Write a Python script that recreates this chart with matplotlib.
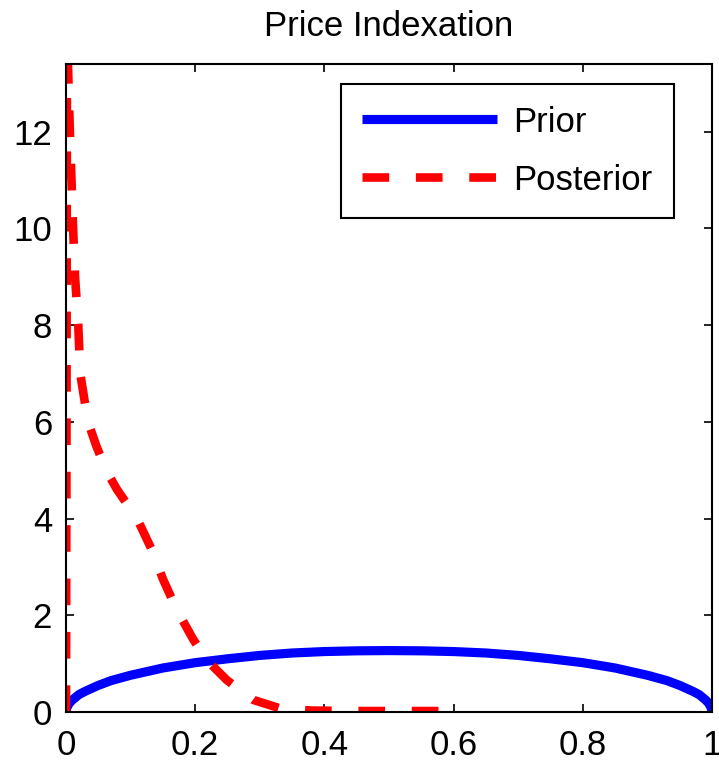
import numpy as np
import matplotlib
matplotlib.use("Agg")
import matplotlib.pyplot as plt

# values
prior_x = [0.0, 0.001, 0.005, 0.01, 0.02, 0.03, 0.05, 0.07, 0.1, 0.15, 0.2,
           0.25, 0.3, 0.35, 0.4, 0.45, 0.5, 0.55, 0.6, 0.65, 0.7, 0.75, 0.8,
           0.85, 0.9, 0.93, 0.95, 0.97, 0.98, 0.99, 0.995, 0.999, 1.0]
prior_y = [0.0, 0.08, 0.18, 0.25, 0.36, 0.43, 0.55, 0.65, 0.76, 0.91, 1.02,
           1.10, 1.17, 1.22, 1.25, 1.265, 1.27, 1.265, 1.25, 1.22, 1.17, 1.10, 1.02,
           0.91, 0.76, 0.65, 0.55, 0.43, 0.36, 0.25, 0.18, 0.08, 0.0]

post_x = [0.0, 0.0008, 0.0015, 0.003, 0.006, 0.011, 0.014, 0.019, 0.022, 0.034,
          0.047, 0.062, 0.079, 0.11, 0.133, 0.15, 0.172, 0.197, 0.218, 0.249,
          0.29, 0.33, 0.38, 0.45, 0.52, 0.59]
post_y = [0.0, 6.0, 14.5, 13.4, 12.0, 10.0, 9.0, 8.0, 7.0, 6.0,
          5.5, 5.0, 4.6, 4.0, 3.35, 2.75, 2.1, 1.5, 1.07, 0.66,
          0.25, 0.08, 0.03, 0.02, 0.02, 0.02]

xticks = [0, 0.2, 0.4, 0.6, 0.8, 1]
xlabels = ["0", "0.2", "0.4", "0.6", "0.8", "1"]
yticks = [0, 2, 4, 6, 8, 10, 12]

plt.rcParams['font.family'] = ['Liberation Sans', 'DejaVu Sans']

fig = plt.figure(figsize=(7.19, 7.62), dpi=100)
ax = fig.add_axes([66 / 719, 1 - 712 / 762, 646 / 719, 648 / 762])

ax.plot(prior_x, prior_y, color='#0000ff', lw=6.6, label='Prior',
        solid_capstyle='butt')
ax.plot(post_x, post_y, color='#ff0000', lw=6.2, ls=(0, (3.1, 3.1)),
        label='Posterior', dash_capstyle='butt')

ax.set_xlim(0, 1)
ax.set_ylim(0, 13.4)
ax.set_xticks(xticks)
ax.set_xticklabels(xlabels)
ax.set_yticks(yticks)
ax.tick_params(direction='in', length=6, width=1.2, labelsize=25,
               top=True, right=True)
ax.tick_params(axis='x', pad=12)
ax.tick_params(axis='y', pad=10)
for s in ax.spines.values():
    s.set_linewidth(1.5)

ax.set_title('Price Indexation', fontsize=25, pad=20)

leg = ax.legend(loc='upper right', bbox_to_anchor=(0.941, 0.969),
                borderaxespad=0, fontsize=25, handlelength=3.9,
                fancybox=False, framealpha=1, edgecolor='black',
                labelspacing=0.72, borderpad=0.62, handletextpad=0.45)
leg.get_frame().set_linewidth(1.5)

fig.savefig('out.png', dpi=100)
